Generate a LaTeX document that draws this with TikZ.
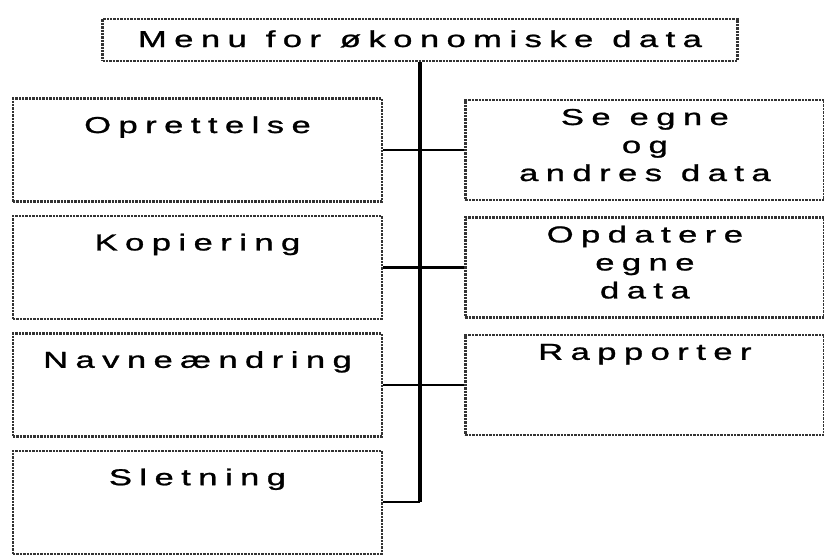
\documentclass[tikz,border=0pt]{standalone}
\usepackage{fontspec}
\usepackage{graphicx}
\setmainfont{Liberation Sans}[FakeBold=1]
\usetikzlibrary{positioning}

% letter-spaced, widened text as in the scan
\ExplSyntaxOn
\seq_new:N \l_menu_words_seq
\NewDocumentCommand \spaced { m }
 {
  \seq_set_split:Nnn \l_menu_words_seq { ~ } { #1 }
  \seq_map_indexed_inline:Nn \l_menu_words_seq
   {
    \int_compare:nNnT { ##1 } > { 1 } { \hspace{.55em} }
    \tl_map_inline:nn { ##2 } { ####1 \kern .217em }
    \kern -.217em
   }
 }
\ExplSyntaxOff
\newcommand\wtext[1]{\scalebox{1.5}[1]{\spaced{#1}}}

\begin{document}
\begin{tikzpicture}[
        x=1pt, y=1pt,
        node distance=12pt,
        frame/.style={draw=black!80, line width=2.4pt, densely dotted, inner xsep=0pt, inner ysep=0pt, align=center, font=\fontsize{23}{28}\selectfont},
        menubox/.style={frame, text width=635pt, text height=28pt, text depth=14pt},
        leftbox/.style={frame, text width=369pt, text height=34.5pt, text depth=68.5pt},
        rightbox/.style={frame, text width=359pt, text height=25pt, text depth=75pt},
        trunk/.style={draw, line width=3.5pt},
        link/.style={draw, line width=2.5pt}
    ]
        \useasboundingbox (0,0) rectangle (824,-554);

        % Title
        \node [menubox] (menu) at (420,-40) {\wtext{Menu for økonomiske data}};

        % Left column
        \node [leftbox] (opr) at (197.5,-150) {\wtext{Oprettelse}};
        \node [leftbox, below=of opr] (kop) {\wtext{Kopiering}};
        \node [leftbox, below=of kop] (navn) {\wtext{Navneændring}};
        \node [leftbox, below=of navn] (slet) {\wtext{Sletning}};

        % Right column
        \node [rightbox, right=81pt of opr] (se) {\wtext{Se egne}\\\wtext{og}\\\wtext{andres data}};
        \node [rightbox, right=81pt of kop] (opd) {\wtext{Opdatere}\\\wtext{egne}\\\wtext{data}};
        \node [rightbox, right=81pt of navn] (rap) {\wtext{Rapporter}};

        % Connectors
        \coordinate (foot) at (menu.south |- slet.east);
        \path [trunk] (menu.south) -- (foot);
        \path [link] (opr.east) -- (se.west);
        \path [link] (kop.east) -- (opd.west);
        \path [link] (navn.east) -- (rap.west);
        \path [link] (slet.east) -- (foot);

    \end{tikzpicture}
\end{document}
